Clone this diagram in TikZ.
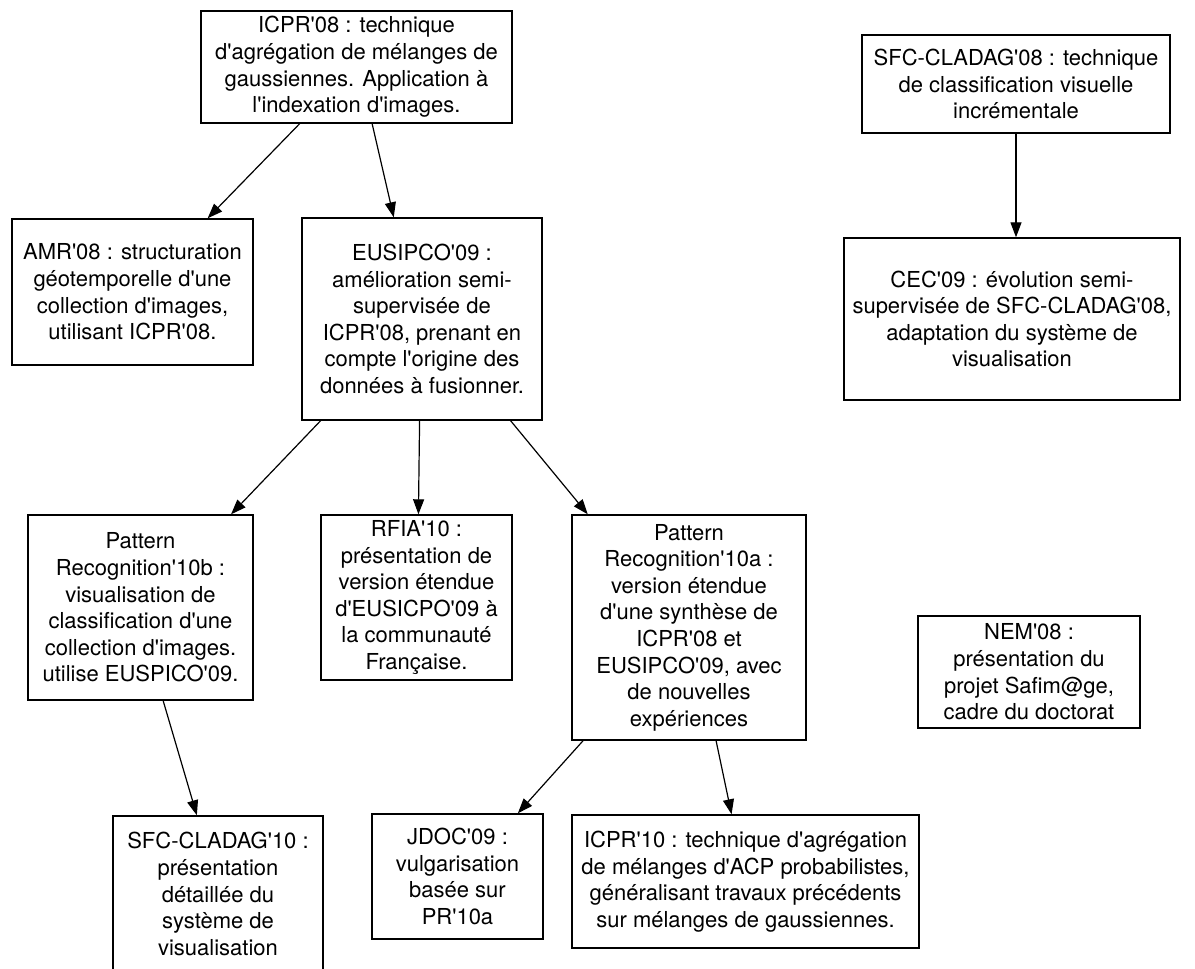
\documentclass[tikz,border=0pt]{standalone}
\usepackage{fontspec}
\newfontfamily\hv{TeX Gyre Heros}
\usetikzlibrary{arrows.meta,calc}
\begin{document}
\begin{tikzpicture}[x=1pt,y=-1pt,
  box/.style={draw, line width=1.4pt, rectangle, inner sep=0pt, align=center,
              font=\hv\fontsize{22}{26.6}\selectfont},
  arr/.style={line width=1.2pt, -{Triangle[length=15pt,width=11pt]}}]
\useasboundingbox (0,0) rectangle (1195,969);
\clip (0,0) rectangle (1195,969);
\fill[white] (0,0) rectangle (1195,969);

\node[box, minimum width=311pt, minimum height=112pt] (icpr08) at (356.5,67)
  {ICPR'08 : technique\\d'agrégation de mélanges de\\gaussiennes. Application à\\l'indexation d'images.};
\node[box, minimum width=308pt, minimum height=98pt] (sfc08) at (1016,84)
  {SFC-CLADAG'08 : technique\\de classification visuelle\\incrémentale};
\node[box, minimum width=241pt, minimum height=146pt] (amr) at (132.5,292)
  {AMR'08 : structuration\\géotemporelle d'une\\collection d'images,\\utilisant ICPR'08.};
\node[box, minimum width=240pt, minimum height=202pt] (eusipco) at (422,319)
  {EUSIPCO'09 :\\amélioration semi-\\supervisée de\\ICPR'08, prenant en\\compte l'origine des\\données à fusionner.};
\node[box, minimum width=336pt, minimum height=162pt] (cec) at (1012,319)
  {CEC'09 : évolution semi-\\supervisée de SFC-CLADAG'08,\\adaptation du système de\\visualisation};
\node[box, minimum width=225pt, minimum height=185pt] (pr10b) at (140.5,607.5)
  {Pattern\\Recognition'10b :\\visualisation de\\classification d'une\\collection d'images.\\utilise EUSPICO'09.};
\node[box, minimum width=191pt, minimum height=165pt] (rfia) at (416.5,597.5)
  {RFIA'10 :\\présentation de\\version étendue\\d'EUSICPO'09 à\\la communauté\\Française.};
\node[box, minimum width=234pt, minimum height=225pt] (pr10a) at (689,627.5)
  {Pattern\\Recognition'10a :\\version étendue\\d'une synthèse de\\ICPR'08 et\\EUSIPCO'09, avec\\de nouvelles\\expériences};
\node[box, minimum width=222pt, minimum height=112pt] (nem) at (1029,672)
  {NEM'08 :\\présentation du\\projet Safim@ge,\\cadre du doctorat};
\node[box, minimum width=210pt, minimum height=156pt] (sfc10) at (218,894)
  {SFC-CLADAG'10 :\\présentation\\détaillée du\\système de\\visualisation};
\node[box, minimum width=171pt, minimum height=125pt] (jdoc) at (457.5,876.5)
  {JDOC'09 :\\vulgarisation\\basée sur\\PR'10a};
\node[box, minimum width=347pt, minimum height=133pt] (icpr10) at (745.5,881.5)
  {ICPR'10 : technique d'agrégation\\de mélanges d'ACP probabilistes,\\généralisant travaux précédents\\sur mélanges de gaussiennes.};

\draw[arr] ($(icpr08.south west)!0.318!(icpr08.south east)$) -- ($(amr.north west)!0.81!(amr.north east)$);
\draw[arr] ($(icpr08.south west)!0.55!(icpr08.south east)$) -- ($(eusipco.north west)!0.383!(eusipco.north east)$);
\draw[arr] (sfc08.south) -- (sfc08.south |- cec.north);
\draw[arr] ($(eusipco.south west)!0.08!(eusipco.south east)$) -- ($(pr10b.north west)!0.9!(pr10b.north east)$);
\draw[arr] ($(eusipco.south west)!0.49!(eusipco.south east)$) -- ($(rfia.north west)!0.51!(rfia.north east)$);
\draw[arr] ($(eusipco.south west)!0.867!(eusipco.south east)$) -- ($(pr10a.north west)!0.07!(pr10a.north east)$);
\draw[arr] ($(pr10b.south west)!0.6!(pr10b.south east)$) -- ($(sfc10.north west)!0.4!(sfc10.north east)$);
\draw[arr] ($(pr10a.south west)!0.05!(pr10a.south east)$) -- ($(jdoc.north west)!0.85!(jdoc.north east)$);
\draw[arr] ($(pr10a.south west)!0.615!(pr10a.south east)$) -- ($(icpr10.north west)!0.46!(icpr10.north east)$);
\end{tikzpicture}
\end{document}
